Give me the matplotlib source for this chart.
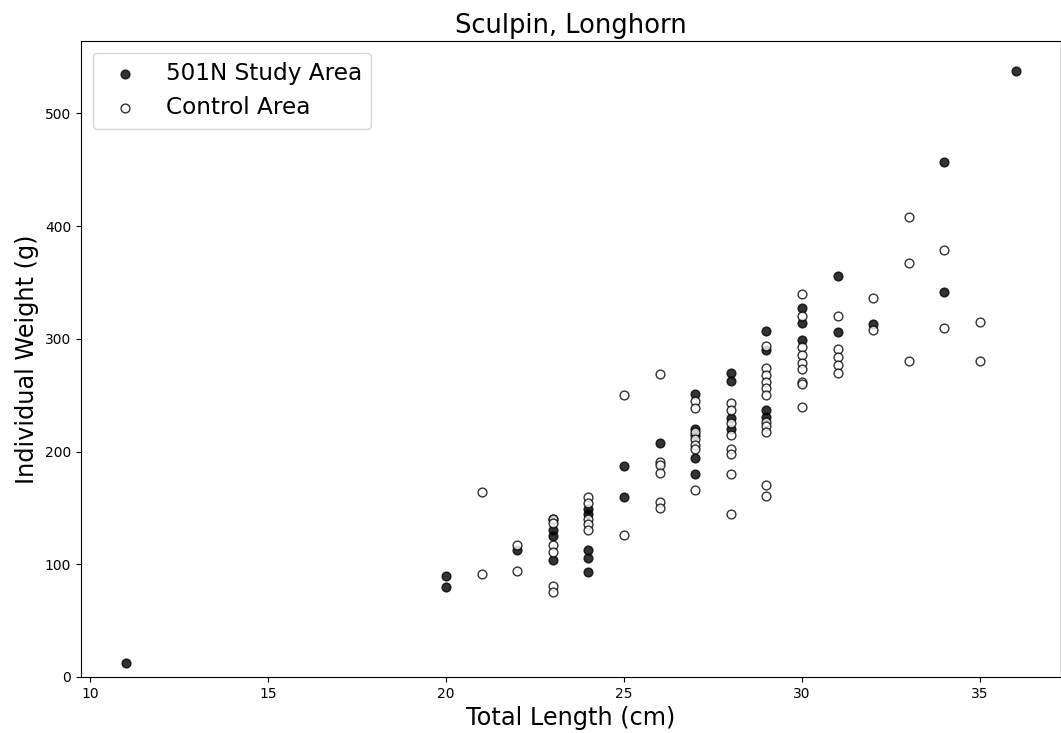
import matplotlib
matplotlib.use("Agg")
import matplotlib.pyplot as plt

study_x = [11, 20, 20, 22, 23, 23, 23, 23, 24, 24, 24, 24, 24, 25, 25, 26,
           27, 27, 27, 27, 27, 28, 28, 28, 28, 29, 29, 29, 29,
           30, 30, 30, 31, 31, 32, 34, 34, 36]
study_y = [12, 90, 80, 113, 140, 130, 125, 104, 149, 145, 113, 106, 93, 187, 160, 208,
           251, 220, 215, 194, 180, 270, 263, 230, 220, 307, 290, 237, 231,
           327, 314, 299, 356, 306, 313, 457, 342, 538]

control_x = [21, 21, 22, 22, 23, 23, 23, 23, 23, 23,
             24, 24, 24, 24, 24, 25, 25,
             26, 26, 26, 26, 26, 26,
             27, 27, 27, 27, 27, 27, 27,
             28, 28, 28, 28, 28, 28, 28, 28,
             29, 29, 29, 29, 29, 29, 29, 29, 29, 29, 29,
             30, 30, 30, 30, 30, 30, 30, 30, 30,
             31, 31, 31, 31, 31, 32, 32, 33, 33, 33, 34, 34, 35, 35]
control_y = [164, 91, 117, 94, 140, 137, 117, 111, 81, 75,
             160, 154, 140, 136, 130, 250, 126,
             269, 191, 188, 181, 155, 150,
             245, 239, 217, 211, 206, 202, 166,
             243, 237, 225, 215, 202, 198, 180, 145,
             294, 274, 268, 262, 256, 250, 226, 223, 217, 170, 161,
             340, 320, 293, 286, 279, 273, 262, 260, 240,
             320, 291, 284, 277, 270, 336, 308, 408, 367, 280, 379, 310, 315, 280]

fig = plt.figure(figsize=(10.61, 7.33), dpi=100)
ax = fig.add_axes([81/1061, 1-677/733, (1060-81)/1061, (677-41)/733])

ax.scatter(study_x, study_y, s=40, color='k', alpha=0.8, label='501N Study Area')
ax.scatter(control_x, control_y, s=40, facecolors='w', edgecolors='k', alpha=0.8,
           label='Control Area')

ax.set_xlim(9.75, 37.25)
ax.set_ylim(0, 564.3)
ax.set_xticks([10, 15, 20, 25, 30, 35])
ax.set_yticks([0, 100, 200, 300, 400, 500])
ax.tick_params(labelsize=10)
ax.spines['right'].set_color('#dddddd')
ax.set_title('Sculpin, Longhorn', fontsize=18.5)
ax.set_xlabel('Total Length (cm)', fontsize=17.28)
ax.set_ylabel('Individual Weight (g)', fontsize=17.28)
ax.legend(loc='upper left', fontsize=16.7, handletextpad=0.75)

fig.savefig('out.png', dpi=100)
